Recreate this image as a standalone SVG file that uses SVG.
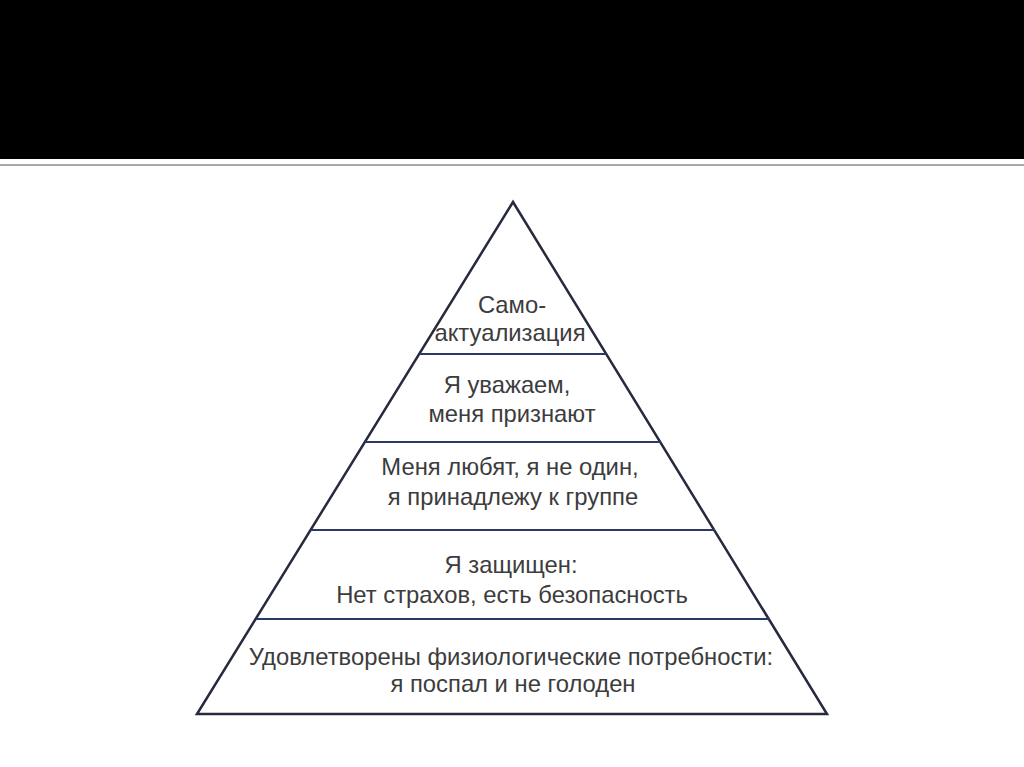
<svg xmlns="http://www.w3.org/2000/svg" width="1024" height="767" viewBox="0 0 1024 767">
<style>
.t{font-family:"Liberation Sans",Arial,sans-serif;font-size:23.8px;fill:#3c3c3c;text-anchor:middle}
.div{stroke:#2b3a63;stroke-width:2}
</style>
<rect x="0" y="0" width="1024" height="767" fill="#ffffff"/>
<rect x="0" y="0" width="1024" height="159" fill="#000000"/>
<rect x="0" y="164" width="1024" height="2" fill="#a8a8a8"/>
<g id="pyramid">
<polygon points="513,202 197,714 827,714" fill="#ffffff" stroke="#262a3c" stroke-width="2.5" stroke-linejoin="miter"/>
</g>
<g id="connectors">
<line class="div" x1="419" y1="354" x2="606" y2="354"/>
<line class="div" x1="365" y1="442" x2="661" y2="442"/>
<line class="div" x1="311" y1="530" x2="715" y2="530"/>
<line class="div" x1="256" y1="619" x2="770" y2="619"/>
</g>
<g id="level5">
<text class="t" x="512" y="313">Само-</text>
<text class="t" x="510" y="341">актуализация</text>
</g>
<g id="level4">
<text class="t" x="507" y="393">Я уважаем,</text>
<text class="t" x="512" y="422">меня признают</text>
</g>
<g id="level3">
<text class="t" x="510" y="475">Меня любят, я не один,</text>
<text class="t" x="513" y="505">я принадлежу к группе</text>
</g>
<g id="level2">
<text class="t" x="511" y="573">Я защищен:</text>
<text class="t" x="512" y="603">Нет страхов, есть безопасность</text>
</g>
<g id="level1">
<text class="t" x="511" y="665">Удовлетворены физиологические потребности:</text>
<text class="t" x="513" y="692">я поспал и не голоден</text>
</g>
</svg>
